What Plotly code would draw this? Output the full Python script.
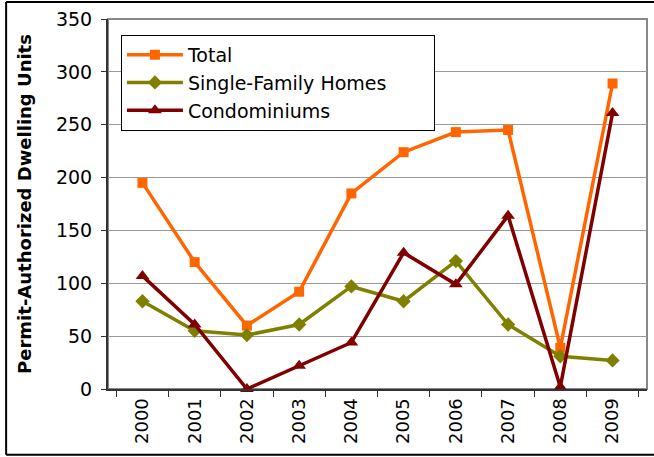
import plotly.graph_objects as go

years = ["2000", "2001", "2002", "2003", "2004", "2005", "2006", "2007", "2008", "2009"]
total = [195, 120, 60, 92, 185, 224, 243, 245, 39, 289]
single_family = [83, 55, 51, 61, 97, 83, 121, 61, 31, 27]
condos = [107, 61, 0, 22, 44, 129, 99, 164, 2, 261]
y_ticks = [0, 50, 100, 150, 200, 250, 300, 350]
pad = "\u00a0" * 7

fig = go.Figure()
fig.add_trace(go.Scatter(x=years, y=total, name="Total", mode="lines+markers",
                         line=dict(color="#FF6600", width=3.5),
                         marker=dict(symbol="square", size=10, color="#FF6600"), cliponaxis=False))
fig.add_trace(go.Scatter(x=years, y=single_family, name="Single-Family Homes" + pad, mode="lines+markers",
                         line=dict(color="#808000", width=3.5),
                         marker=dict(symbol="diamond", size=11, color="#808000"), cliponaxis=False))
fig.add_trace(go.Scatter(x=years, y=condos, name="Condominiums", mode="lines+markers",
                         line=dict(color="#800000", width=3.5),
                         marker=dict(symbol="triangle-up", size=12, color="#800000"), cliponaxis=False))

font = "DejaVu Sans, Verdana, sans-serif"
frame = dict(color="black", width=2)
fig.update_layout(
    width=654, height=457,
    margin=dict(l=108, r=7, t=19, b=68),
    paper_bgcolor="white", plot_bgcolor="white",
    font=dict(family=font, size=18, color="black"),
    showlegend=True,
    legend=dict(x=0.024, y=0.957, xanchor="left", yanchor="top",
                bgcolor="white", bordercolor="black", borderwidth=1,
                font=dict(size=19, family=font), tracegroupgap=0, itemwidth=56),
    xaxis=dict(type="category", tickangle=-90, showgrid=False, automargin=False,
               showline=True, linecolor="#333", linewidth=2,
               ticks="outside", tickson="boundaries", ticklen=6, tickcolor="#333",
               tickfont=dict(size=18, family=font)),
    yaxis=dict(range=[0, 350], tickvals=y_ticks, showgrid=True, gridcolor="#999", gridwidth=1,
               showline=True, linecolor="#333", linewidth=2, automargin=False,
               ticks="outside", ticklen=5, tickcolor="#333", zeroline=False,
               ticklabelstandoff=5,
               tickfont=dict(size=19, family=font),
               title=dict(text="<b>Permit-Authorized Dwelling Units</b>", font=dict(size=18, family=font), standoff=20)),
    shapes=[
        dict(type="rect", xref="paper", yref="paper", x0=0, x1=1, y0=0, y1=1,
             line=dict(color="#888", width=2), layer="below"),
        dict(type="line", xref="paper", yref="paper", x0=-0.189, x1=-0.189, y0=-0.178, y1=1.046, line=frame),
        dict(type="line", xref="paper", yref="paper", x0=-0.189, x1=1.02, y0=1.046, y1=1.046, line=frame),
        dict(type="line", xref="paper", yref="paper", x0=-0.189, x1=1.02, y0=-0.178, y1=-0.178, line=frame),
    ],
)
fig.write_html("out.html", config={"displayModeBar": False},
               post_script="document.body.style.margin='0';")
